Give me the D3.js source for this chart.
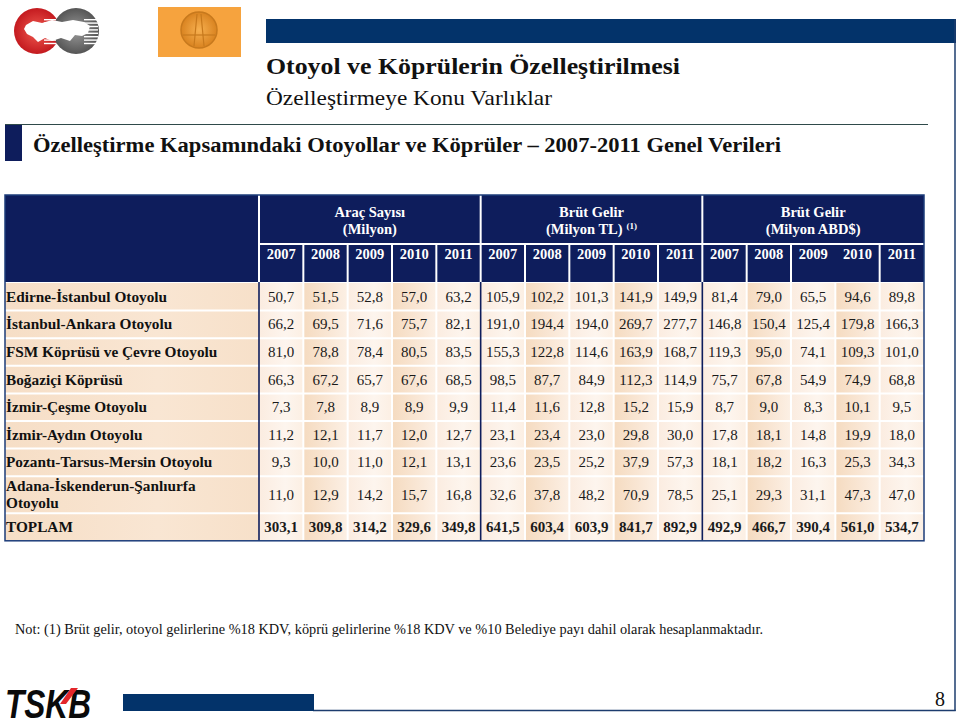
<!DOCTYPE html>
<html>
<head>
<meta charset="utf-8">
<script src="https://cdn.jsdelivr.net/npm/d3@7"></script>
<style>
  html, body { margin: 0; padding: 0; background: #ffffff; }
  svg { display: block; }
</style>
</head>
<body>
<svg id="chart" width="960" height="727"></svg>
<script>
// ---------------- DATA ----------------
const title = "Otoyol ve Köprülerin Özelleştirilmesi";
const subtitle = "Özelleştirmeye Konu Varlıklar";
const sectionTitle = "Özelleştirme Kapsamındaki Otoyollar ve Köprüler – 2007-2011 Genel Verileri";
const footnote = "Not: (1) Brüt gelir, otoyol gelirlerine %18 KDV, köprü gelirlerine %18 KDV ve %10 Belediye payı dahil olarak hesaplanmaktadır.";
const pageNumber = "8";

const years = ["2007", "2008", "2009", "2010", "2011"];
const groupLine1 = ["Araç Sayısı", "Brüt Gelir", "Brüt Gelir"];
const groupLine2 = ["(Milyon)", "(Milyon TL)", "(Milyon ABD$)"];
const groupSup = ["", "(1)", ""];

const roads = [
  ["Edirne-İstanbul Otoyolu"],
  ["İstanbul-Ankara Otoyolu"],
  ["FSM Köprüsü ve Çevre Otoyolu"],
  ["Boğaziçi Köprüsü"],
  ["İzmir-Çeşme Otoyolu"],
  ["İzmir-Aydın Otoyolu"],
  ["Pozantı-Tarsus-Mersin Otoyolu"],
  ["Adana-İskenderun-Şanlıurfa", "Otoyolu"],
  ["TOPLAM"]
];

// Araç Sayısı (Milyon)
const aracSayisi = [
  ["50,7", "51,5", "52,8", "57,0", "63,2"],
  ["66,2", "69,5", "71,6", "75,7", "82,1"],
  ["81,0", "78,8", "78,4", "80,5", "83,5"],
  ["66,3", "67,2", "65,7", "67,6", "68,5"],
  ["7,3", "7,8", "8,9", "8,9", "9,9"],
  ["11,2", "12,1", "11,7", "12,0", "12,7"],
  ["9,3", "10,0", "11,0", "12,1", "13,1"],
  ["11,0", "12,9", "14,2", "15,7", "16,8"],
  ["303,1", "309,8", "314,2", "329,6", "349,8"]
];
// Brüt Gelir (Milyon TL)
const brutGelirTL = [
  ["105,9", "102,2", "101,3", "141,9", "149,9"],
  ["191,0", "194,4", "194,0", "269,7", "277,7"],
  ["155,3", "122,8", "114,6", "163,9", "168,7"],
  ["98,5", "87,7", "84,9", "112,3", "114,9"],
  ["11,4", "11,6", "12,8", "15,2", "15,9"],
  ["23,1", "23,4", "23,0", "29,8", "30,0"],
  ["23,6", "23,5", "25,2", "37,9", "57,3"],
  ["32,6", "37,8", "48,2", "70,9", "78,5"],
  ["641,5", "603,4", "603,9", "841,7", "892,9"]
];
// Brüt Gelir (Milyon ABD$)
const brutGelirUSD = [
  ["81,4", "79,0", "65,5", "94,6", "89,8"],
  ["146,8", "150,4", "125,4", "179,8", "166,3"],
  ["119,3", "95,0", "74,1", "109,3", "101,0"],
  ["75,7", "67,8", "54,9", "74,9", "68,8"],
  ["8,7", "9,0", "8,3", "10,1", "9,5"],
  ["17,8", "18,1", "14,8", "19,9", "18,0"],
  ["18,1", "18,2", "16,3", "25,3", "34,3"],
  ["25,1", "29,3", "31,1", "47,3", "47,0"],
  ["492,9", "466,7", "390,4", "561,0", "534,7"]
];

// ---------------- DRAW ----------------
const svg = d3.select("#chart");
const NAVY = "#0e1d5c";
const BAR = "#03336a";
const SERIF = "'Liberation Serif', 'DejaVu Serif', serif";

const defs = svg.append("defs");
function grad(id, stops) {
  const g = defs.append("linearGradient").attr("id", id)
    .attr("x1", "0%").attr("x2", "100%").attr("y1", "0%").attr("y2", "0%");
  stops.forEach(s => g.append("stop").attr("offset", s[0]).attr("stop-color", s[1]));
}
grad("cellA", [["0%", "#fbece0"], ["60%", "#fdf5ee"], ["100%", "#fcefe3"]]);
grad("cellB", [["0%", "#f5dbc0"], ["55%", "#f9e6d4"], ["100%", "#fcf0e5"]]);
grad("labelG", [["0%", "#f6dec6"], ["60%", "#f9e6d3"], ["100%", "#f7e0c9"]]);
const rg = defs.append("radialGradient").attr("id", "redC");
rg.append("stop").attr("offset", "0%").attr("stop-color", "#f05a50");
rg.append("stop").attr("offset", "100%").attr("stop-color", "#c41a1f");
const gg = defs.append("radialGradient").attr("id", "greyC");
gg.append("stop").attr("offset", "0%").attr("stop-color", "#9a9a9a");
gg.append("stop").attr("offset", "100%").attr("stop-color", "#555555");
const og = defs.append("radialGradient").attr("id", "orC");
og.append("stop").attr("offset", "0%").attr("stop-color", "#f7b050");
og.append("stop").attr("offset", "100%").attr("stop-color", "#d98320");

// --- page frame ---
svg.append("rect").attr("x", 266).attr("y", 19).attr("width", 690).attr("height", 24).attr("fill", BAR);
svg.append("line").attr("x1", 955).attr("x2", 955).attr("y1", 19).attr("y2", 711)
  .attr("stroke", "#1c3c6e").attr("stroke-width", 1.5);
svg.append("line").attr("x1", 313).attr("x2", 955.7).attr("y1", 710.5).attr("y2", 710.5)
  .attr("stroke", "#1c3c6e").attr("stroke-width", 1.5);
svg.append("rect").attr("x", 123).attr("y", 694).attr("width", 191).attr("height", 17).attr("fill", BAR);

// --- logos (top-left) ---
const logo = svg.append("g");
logo.append("circle").attr("cx", 37).attr("cy", 31).attr("r", 23).attr("fill", "url(#redC)");
logo.append("circle").attr("cx", 76).attr("cy", 31).attr("r", 23).attr("fill", "url(#greyC)");
logo.append("path")
  .attr("d", "M26,25 L33,21 L42,23 L52,20 L62,22 L73,20 L84,22 L90,26 L88,33 L82,36 L75,35 L70,41 L61,38 L52,41 L45,38 L38,42 L33,37 L27,34 L24,29 Z")
  .attr("fill", "#ffffff");
for (let i = 0; i < 8; i++) {
  logo.append("rect").attr("x", 84).attr("y", 19 + i * 3.4).attr("width", 14).attr("height", 1.4).attr("fill", "#ffffff");
  logo.append("rect").attr("x", 44).attr("y", 19 + i * 3.4).attr("width", 12).attr("height", 1.4).attr("fill", "#ffffff");
}
logo.append("rect").attr("x", 158).attr("y", 7).attr("width", 83).attr("height", 50).attr("fill", "#f6a33e");
logo.append("circle").attr("cx", 199).attr("cy", 30).attr("r", 18).attr("fill", "url(#orC)")
  .attr("stroke", "#c7791d").attr("stroke-width", 1.5);
logo.append("path").attr("d", "M197,14 L194,46 M201,14 L204,46").attr("stroke", "#c7791d").attr("stroke-width", 1.2).attr("fill", "none");
logo.append("line").attr("x1", 183).attr("x2", 215).attr("y1", 35).attr("y2", 35).attr("stroke", "#c7791d").attr("stroke-width", 1.2);

// --- titles ---
svg.append("text").attr("x", 266).attr("y", 74).attr("font-family", SERIF).attr("font-weight", "bold")
  .attr("font-size", 24).attr("fill", "#111111").attr("textLength", 414).attr("lengthAdjust", "spacingAndGlyphs").text(title);
svg.append("text").attr("x", 266).attr("y", 105).attr("font-family", SERIF)
  .attr("font-size", 21).attr("fill", "#111111").attr("textLength", 286).attr("lengthAdjust", "spacingAndGlyphs").text(subtitle);
svg.append("line").attr("x1", 5).attr("x2", 928).attr("y1", 124.5).attr("y2", 124.5)
  .attr("stroke", "#2f4a4a").attr("stroke-width", 1.2);
svg.append("rect").attr("x", 5).attr("y", 125).attr("width", 17).attr("height", 36).attr("fill", NAVY);
svg.append("text").attr("x", 33).attr("y", 152).attr("font-family", SERIF).attr("font-weight", "bold")
  .attr("font-size", 20).attr("fill", "#111111").attr("textLength", 748).attr("lengthAdjust", "spacingAndGlyphs").text(sectionTitle);

// --- table geometry via scales ---
const tableLeft = 5, labelRight = 259, tableRight = 924;
const headTop = 195, headMid = 244, headBottom = 282;
const nCols = years.length * groupLine1.length;
const colScale = d3.scaleBand().domain(d3.range(nCols)).range([labelRight, tableRight]).paddingInner(0);
const groupScale = d3.scaleBand().domain(d3.range(groupLine1.length)).range([labelRight, tableRight]);

const rowHeights = roads.map(r => r.length > 1 ? 37 : 27.6);
const rowTops = [headBottom + 1, ...d3.cumsum(rowHeights).map(v => headBottom + 1 + v)];
const tableBottom = rowTops[rowTops.length - 1];
const rowIndex = d3.range(roads.length);

// header background
svg.append("rect").attr("x", tableLeft).attr("y", headTop).attr("width", tableRight - tableLeft)
  .attr("height", headBottom - headTop).attr("fill", NAVY);

// header separators (white)
const hdr = svg.append("g").attr("stroke", "#ffffff").attr("stroke-width", 2);
hdr.append("line").attr("x1", labelRight).attr("x2", tableRight).attr("y1", headMid).attr("y2", headMid);
groupScale.domain().forEach(g => {
  hdr.append("line").attr("x1", groupScale(g)).attr("x2", groupScale(g)).attr("y1", headTop).attr("y2", headBottom);
});
colScale.domain().forEach(c => {
  if (c % 5 === 0) return;
  if (c === 13) return; // no divider between 2009 and 2010 in last group
  hdr.append("line").attr("x1", colScale(c)).attr("x2", colScale(c)).attr("y1", headMid).attr("y2", headBottom);
});

// header texts
groupLine1.forEach((t, g) => {
  const cx = groupScale(g) + groupScale.bandwidth() / 2;
  svg.append("text").attr("x", cx).attr("y", 217).attr("text-anchor", "middle").attr("font-family", SERIF)
    .attr("font-weight", "bold").attr("font-size", 14.5).attr("fill", "#ffffff").text(t);
  const t2 = svg.append("text").attr("x", cx).attr("y", 234).attr("text-anchor", "middle").attr("font-family", SERIF)
    .attr("font-weight", "bold").attr("font-size", 14.5).attr("fill", "#ffffff");
  t2.append("tspan").text(groupLine2[g]);
  if (groupSup[g]) {
    t2.append("tspan").attr("dx", 4).attr("dy", -5).attr("font-size", 9).text(groupSup[g]);
  }
});
colScale.domain().forEach(c => {
  svg.append("text").attr("x", colScale(c) + colScale.bandwidth() / 2).attr("y", 259)
    .attr("text-anchor", "middle").attr("font-family", SERIF).attr("font-weight", "bold")
    .attr("font-size", 14.5).attr("fill", "#ffffff").text(years[c % 5]);
});

// body backgrounds
const body = svg.append("g");
rowIndex.forEach(r => {
  body.append("rect").attr("x", tableLeft).attr("y", rowTops[r]).attr("width", labelRight - tableLeft)
    .attr("height", rowHeights[r]).attr("fill", "url(#labelG)");
  colScale.domain().forEach(c => {
    body.append("rect").attr("x", colScale(c)).attr("y", rowTops[r]).attr("width", colScale.bandwidth())
      .attr("height", rowHeights[r]).attr("fill", (c % 5) % 2 === 1 ? "url(#cellB)" : "url(#cellA)");
  });
});
// white grid lines in body
const grid = svg.append("g").attr("stroke", "#ffffff").attr("stroke-width", 2);
rowTops.slice(1, -1).forEach(y => {
  grid.append("line").attr("x1", tableLeft).attr("x2", tableRight).attr("y1", y).attr("y2", y);
});
colScale.domain().forEach(c => {
  if (c % 5 === 0) return;
  grid.append("line").attr("x1", colScale(c)).attr("x2", colScale(c)).attr("y1", headBottom).attr("y2", tableBottom);
});
// navy group dividers in body
const nav = svg.append("g").attr("stroke", NAVY).attr("stroke-width", 1.6);
groupScale.domain().forEach(g => {
  nav.append("line").attr("x1", groupScale(g)).attr("x2", groupScale(g)).attr("y1", headBottom).attr("y2", tableBottom);
});
// outer border
svg.append("rect").attr("x", tableLeft).attr("y", headTop).attr("width", tableRight - tableLeft)
  .attr("height", tableBottom - headTop).attr("fill", "none").attr("stroke", "#1c3c7a").attr("stroke-width", 1.5);

// body texts
const valueSets = [aracSayisi, brutGelirTL, brutGelirUSD];
rowIndex.forEach(r => {
  const isTotal = r === roads.length - 1;
  const cy = rowTops[r] + rowHeights[r] / 2;
  const lbl = svg.append("text").attr("x", 6).attr("font-family", SERIF).attr("font-weight", "bold")
    .attr("font-size", 15.3).attr("fill", "#111111");
  const lines = roads[r];
  lines.forEach((ln, i) => {
    lbl.append("tspan").attr("x", 6)
      .attr("y", cy + 5 + (i - (lines.length - 1) / 2) * 17).text(ln);
  });
  colScale.domain().forEach(c => {
    const g = Math.floor(c / 5), k = c % 5;
    svg.append("text").attr("x", colScale(c) + colScale.bandwidth() / 2).attr("y", cy + 5)
      .attr("text-anchor", "middle").attr("font-family", SERIF)
      .attr("font-weight", isTotal ? "bold" : "normal")
      .attr("font-size", 15).attr("fill", "#1a1a1a").text(valueSets[g][r][k]);
  });
});

// footnote
svg.append("text").attr("x", 15).attr("y", 634).attr("font-family", SERIF).attr("font-size", 14)
  .attr("fill", "#111111").attr("textLength", 748).attr("lengthAdjust", "spacingAndGlyphs").text(footnote);

// page number
svg.append("text").attr("x", 945).attr("y", 706).attr("text-anchor", "end").attr("font-family", SERIF)
  .attr("font-size", 20).attr("fill", "#111111").text(pageNumber);

// TSKB logo
svg.append("text").attr("x", 5).attr("y", 718)
  .attr("font-family", "'Liberation Sans Narrow', 'Liberation Sans', Arial, sans-serif")
  .attr("font-weight", "bold").attr("font-style", "italic").attr("font-size", 40).attr("fill", "#0a0a0a")
  .attr("textLength", 86).attr("lengthAdjust", "spacingAndGlyphs").text("TSKB");
svg.append("path").attr("d", "M60,704 L71,688 L78,688 L66,704 Z").attr("fill", "#e3262a");
</script>
</body>
</html>
